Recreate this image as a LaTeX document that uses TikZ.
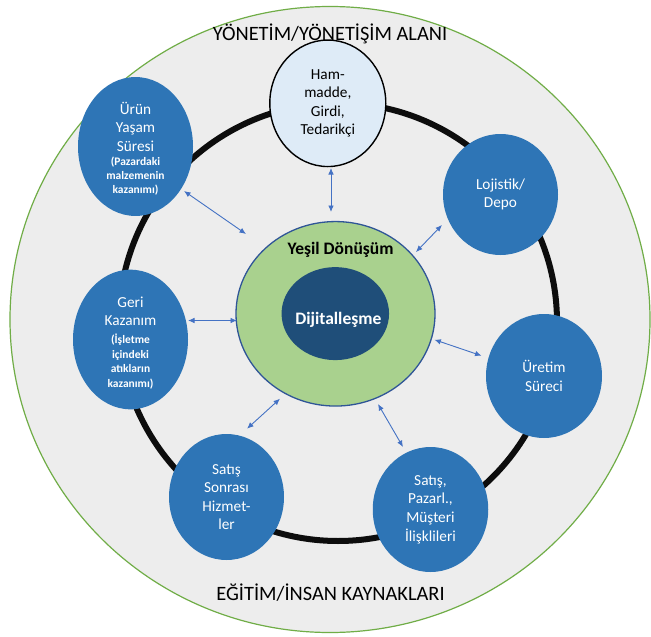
\documentclass[tikz,border=0pt]{standalone}
\usepackage{fontspec}
\setmainfont{Carlito}
\usetikzlibrary{shapes.geometric,arrows.meta}

\definecolor{fieldgray}{HTML}{EDEDED}
\definecolor{fieldedge}{HTML}{70AD47}
\definecolor{ringblack}{HTML}{0D0D0D}
\definecolor{stageblue}{HTML}{2E75B6}
\definecolor{supplyfill}{HTML}{DEEBF7}
\definecolor{greenfill}{HTML}{A9D18E}
\definecolor{greenedge}{HTML}{2F5597}
\definecolor{coreblue}{HTML}{1F4E79}
\definecolor{linkblue}{HTML}{4472C4}

\newcommand{\smb}{\bfseries\fontsize{11.5}{14}\selectfont}

\tikzset{
  stage/.style={ellipse, fill=stageblue, draw=none, inner sep=0pt,
    minimum width=115pt, minimum height=123pt, align=center, text=white,
    font=\fontsize{15.3}{18.6}\selectfont},
  biarrow/.style={draw=linkblue, line width=0.9pt,
    {Latex[length=6.5pt,width=5.5pt]}-{Latex[length=6.5pt,width=5.5pt]}},
  heading/.style={anchor=base, font=\fontsize{20.4}{24}\selectfont}
}

\begin{document}
\begin{tikzpicture}[x=1pt,y=-1pt]
\useasboundingbox (0,0) rectangle (651,637);
\fill[white] (0,0) rectangle (651,637);

% outer management / education field
\node[ellipse, fill=fieldgray, draw=fieldedge, line width=1.2pt, inner sep=0pt,
      minimum width=640pt, minimum height=626pt] (field) at (330,319.5) {};

\node[heading] (top) at (330,40) {YÖNETİM/YÖNETİŞİM ALANI};
\node[heading] (bottom) at (330.5,600) {EĞİTİM/İNSAN KAYNAKLARI};

% the value-chain ring
\node[circle, draw=ringblack, line width=6pt, inner sep=0pt,
      minimum size=438pt] (ring) at (338,322) {};

% centre: green transformation and digitalisation
\node[ellipse, fill=greenfill, draw=greenedge, line width=1.3pt, inner sep=0pt,
      minimum width=199pt, minimum height=184.5pt] (green) at (335.5,313.8) {};
\node[ellipse, fill=coreblue, inner sep=0pt,
      minimum width=107.5pt, minimum height=93pt] (core) at (335.3,313.6) {};
\node[anchor=base, font=\bfseries\fontsize{17.5}{21}\selectfont]
      (greenlabel) at (340.6,254) {Yeşil Dönüşüm};
\node[anchor=base, text=white, font=\bfseries\fontsize{17.5}{21}\selectfont]
      (corelabel) at (338.3,324.3) {Dijitalleşme};

% stages on the ring
\node[ellipse, fill=supplyfill, draw=black, line width=1.4pt, inner sep=0pt,
      minimum width=116pt, minimum height=126.5pt, align=center,
      font=\fontsize{15.3}{18.6}\selectfont] (supply) at (327.8,103.3)
      {Ham-\\madde,\\Girdi,\\Tedarikçi};

\node[stage, minimum height=121pt] (life) at (135.5,146.5)
      {\rule{0pt}{17pt}Ürün\\Yaşam\\Süresi\\[-4.3pt]\smb (Pazardaki\\[-4.5pt]\smb malzemenin\\[-4.7pt]\smb kazanımı)};

\node[stage, minimum height=121pt] (logistics) at (500.5,194.5) {Lojistik/\\Depo};

\node[stage, minimum height=125pt] (recovery) at (130.5,339.5)
      {\rule{0pt}{17pt}Geri\\Kazanım\\[-0.6pt]\smb (İşletme\\[-4.2pt]\smb içindeki\\[-4pt]\smb atıkların\\[-4.2pt]\smb kazanımı)};

\node[stage, minimum width=116pt, minimum height=124pt] (production) at (544,376) {Üretim\\Süreci};

\node[stage, minimum height=126pt] (aftersales) at (226.5,497) {Satış\\Sonrası\\Hizmet-\\ler};

\node[stage, minimum width=115.5pt, minimum height=125pt] (sales) at (430.5,509.5)
      {Satış,\\Pazarl.,\\Müşteri\\İlişklileri};

% two-way links between the stages and the centre
\coordinate (lifeA) at (184,191);        \coordinate (lifeB) at (246,234);
\coordinate (supplyA) at (331,168);      \coordinate (supplyB) at (331,212);
\coordinate (logA) at (442,225);         \coordinate (logB) at (416,252);
\coordinate (recA) at (188,320.5);       \coordinate (recB) at (237,320.5);
\coordinate (prodA) at (434.4,339.7);    \coordinate (prodB) at (481.5,355.7);
\coordinate (afterA) at (247,428.7);     \coordinate (afterB) at (280,398.7);
\coordinate (salesA) at (378,404);       \coordinate (salesB) at (403,447);

\draw[biarrow] (lifeA) -- (lifeB);
\draw[biarrow] (supplyA) -- (supplyB);
\draw[biarrow] (logA) -- (logB);
\draw[biarrow] (recA) -- (recB);
\draw[biarrow] (prodA) -- (prodB);
\draw[biarrow] (afterA) -- (afterB);
\draw[biarrow] (salesA) -- (salesB);
\end{tikzpicture}
\end{document}
